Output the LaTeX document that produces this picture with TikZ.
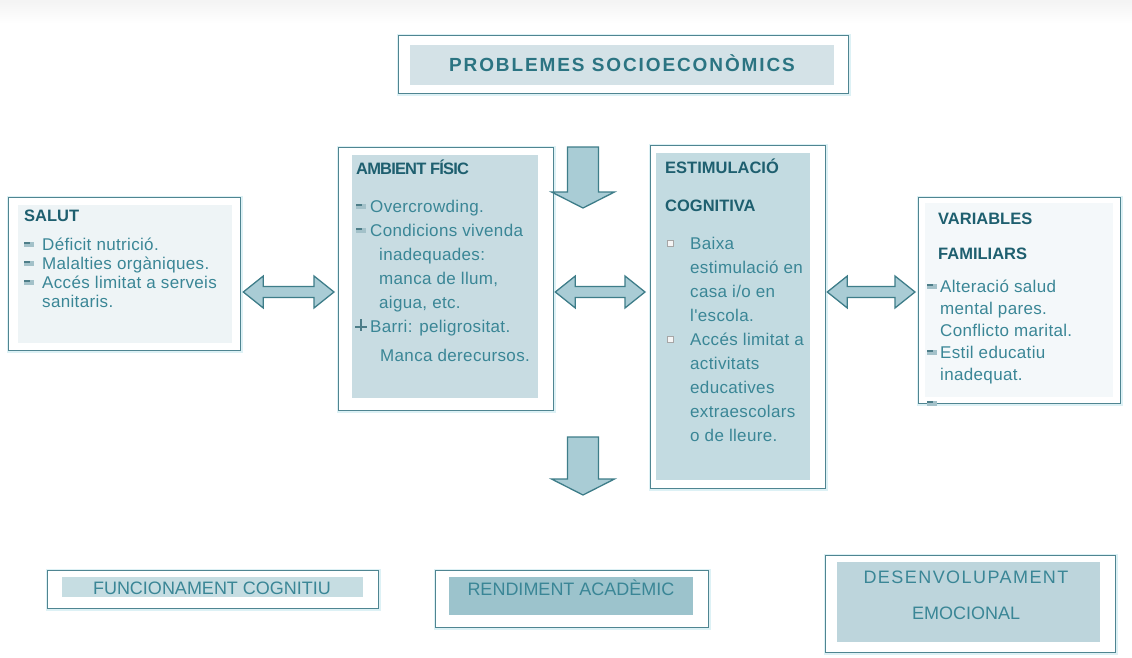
\documentclass[tikz,border=0pt]{standalone}
\usepackage{fontspec}
\setmainfont{Liberation Sans}
\newfontfamily\bodyfont[LetterSpace=2]{Liberation Sans}
\newfontfamily\headfont{Liberation Sans}
\newfontfamily\headtight[LetterSpace=-5]{Liberation Sans}
\newfontfamily\titlefont[LetterSpace=10]{Liberation Sans}
\newfontfamily\widefont[LetterSpace=8]{Liberation Sans}
\usetikzlibrary{calc}

\definecolor{framec}{HTML}{4F8591}
\definecolor{glowc}{HTML}{DDF1F5}
\definecolor{bodyc}{HTML}{3A8696}
\definecolor{headc}{HTML}{1E5F6F}
\definecolor{titlec}{HTML}{2B7482}
\definecolor{arrowfill}{HTML}{A9CCD5}
\definecolor{arrowline}{HTML}{3E7D89}
\definecolor{titlefill}{HTML}{D4E2E7}
\definecolor{salutfill}{HTML}{EEF4F6}
\definecolor{ambfill}{HTML}{C8DCE2}
\definecolor{estfill}{HTML}{C3DBE1}
\definecolor{varfill}{HTML}{F4F8FA}
\definecolor{funcfill}{HTML}{C6DDE2}
\definecolor{rendfill}{HTML}{9CC3CC}
\definecolor{desfill}{HTML}{BDD5DC}
\definecolor{bulletlight}{HTML}{A3C1C9}
\definecolor{bulletdark}{HTML}{4D7D88}

% horizontal two-headed block arrow between two points on one row
\newcommand\hdarrow[2]{%
  \draw[blockarrow] let \p1=(#1), \p2=(#2) in
    (\x1,\y1) -- (\x1+20pt,\y1+16pt) -- (\x1+20pt,\y1+5.5pt)
    -- (\x2-20pt,\y1+5.5pt) -- (\x2-20pt,\y1+16pt) -- (\x2,\y1)
    -- (\x2-20pt,\y1-16pt) -- (\x2-20pt,\y1-5.5pt)
    -- (\x1+20pt,\y1-5.5pt) -- (\x1+20pt,\y1-16pt) -- cycle;}
% downward block arrow from the top of its shaft to its tip
\newcommand\vdarrow[2]{%
  \draw[blockarrow] let \p1=(#1), \p2=(#2) in
    (\x1-15.5pt,\y1) -- (\x1+15.5pt,\y1) -- (\x1+15.5pt,\y2+16pt)
    -- (\x1+31.5pt,\y2+16pt) -- (\x1,\y2) -- (\x1-31.5pt,\y2+16pt)
    -- (\x1-15.5pt,\y2+16pt) -- cycle;}

\tikzset{
  frame/.style={draw=framec, line width=1.3pt, fill=white, inner sep=0pt,
    anchor=north west, preaction={draw=glowc, line width=4pt}},
  panel/.style={inner sep=0pt, anchor=north west, draw=none},
  body/.style={anchor=base west, inner sep=0pt, text=bodyc,
    font=\bodyfont\fontsize{17}{19}\selectfont},
  head/.style={anchor=base west, inner sep=0pt, text=headc,
    font=\headfont\bfseries\fontsize{16.5}{19}\selectfont},
  btext/.style={inner sep=0pt, text=bodyc, font=\fontsize{18}{20}\selectfont},
  blockarrow/.style={fill=arrowfill, draw=arrowline, line width=1.3pt, line join=miter},
  dashbullet/.pic={
    \fill[bulletlight] (0,-8) rectangle (10,-3);
    \draw[bulletdark, line width=1.1pt] (0,-7) -- (6,-7);},
  sqbullet/.pic={
    \filldraw[fill=white!92!gray, draw=gray!70, line width=0.6pt] (0,-9) rectangle (6,-3);},
  pinbullet/.pic={
    \draw[bulletdark, line width=1.3pt] (7,-13) -- (7,-1) (1,-5) -- (13,-5);},
}

\begin{document}
\begin{tikzpicture}[x=1pt, y=-1pt]
\useasboundingbox (0,0) rectangle (1132,658);
\fill[white] (0,0) rectangle (1132,658);
\shade[top color=gray!9, bottom color=white] (0,0) rectangle (1132,24);

% ---- heading ----
\node[frame, minimum width=450pt, minimum height=58pt] (title) at (398,35) {};
\node[panel, fill=titlefill, minimum width=424pt, minimum height=40pt] (title-in) at (410,45) {};
\node[inner sep=0pt, text=titlec, font=\titlefont\bfseries\fontsize{19}{22}\selectfont]
  (title-t) at (622,63) {PROBLEMES SOCIOECONÒMICS};

% ---- SALUT ----
\node[frame, minimum width=232pt, minimum height=153pt] (salut) at (8,197) {};
\node[panel, fill=salutfill, minimum width=214pt, minimum height=138pt] (salut-in) at (18,205) {};
\node[head] (salut-h) at (24,221) {SALUT};
\foreach \t [count=\i from 0] in {Déficit nutrició., Malalties orgàniques., Accés limitat a serveis, sanitaris.}
  \node[body] (salut-l\i) at (42,250+19*\i) {\t};
\foreach \i in {0,1,2} \pic at (24,250+19*\i) {dashbullet};

% ---- AMBIENT FÍSIC ----
\node[frame, minimum width=215pt, minimum height=263pt] (amb) at (338,147) {};
\node[panel, fill=ambfill, minimum width=186pt, minimum height=243pt] (amb-in) at (352,155) {};
\node[head, font=\headtight\bfseries\fontsize{16.5}{19}\selectfont] (amb-h) at (356,174) {AMBIENT FÍSIC};
\node[body] (amb-l0) at (370,212) {Overcrowding.};
\node[body] (amb-l1) at (370,236) {Condicions vivenda};
\node[body] (amb-l2) at (379,260) {inadequades:};
\node[body] (amb-l3) at (379,284) {manca de llum,};
\node[body] (amb-l4) at (379,308) {aigua, etc.};
\node[body] (amb-l5) at (370,332) {Barri: peligrositat.};
\node[body] (amb-l6) at (380,361) {Manca derecursos.};
\pic at (356,212) {dashbullet};
\pic at (356,236) {dashbullet};
\pic at (354,332) {pinbullet};

% ---- ESTIMULACIÓ COGNITIVA ----
\node[frame, minimum width=175pt, minimum height=343pt] (est) at (650,145) {};
\node[panel, fill=estfill, minimum width=154pt, minimum height=327pt] (est-in) at (656,153) {};
\node[head] (est-h1) at (665,173) {ESTIMULACIÓ};
\node[head] (est-h2) at (665,211) {COGNITIVA};
\foreach \t [count=\i from 0] in {Baixa, estimulació en, casa i/o en, l'escola., Accés limitat a,
    activitats, educatives, extraescolars, o de lleure.}
  \node[body] (est-l\i) at (690,249+24.1*\i) {\t};
\pic at (667,249) {sqbullet};
\pic at (667,345) {sqbullet};

% ---- VARIABLES FAMILIARS ----
\node[frame, minimum width=202pt, minimum height=206pt] (var) at (918,197) {};
\node[panel, fill=varfill, minimum width=188pt, minimum height=194pt] (var-in) at (925,203) {};
\node[head] (var-h1) at (938,224) {VARIABLES};
\node[head] (var-h2) at (938,259) {FAMILIARS};
\foreach \t [count=\i from 0] in {Alteració salud, mental pares., Conflicto marital., Estil educatiu, inadequat.}
  \node[body] (var-l\i) at (940,292+22*\i) {\t};
\pic at (927,292) {dashbullet};
\pic at (927,358) {dashbullet};
\pic at (927,409) {dashbullet};

% ---- outcomes ----
\node[frame, minimum width=331pt, minimum height=38pt] (func) at (47,570) {};
\node[panel, fill=funcfill, minimum width=301pt, minimum height=20pt] (func-in) at (62,577) {};
\node[btext] (func-t) at (212,588) {FUNCIONAMENT COGNITIU};

\node[frame, minimum width=273pt, minimum height=57pt] (rend) at (435,570) {};
\node[panel, fill=rendfill, minimum width=244pt, minimum height=38pt] (rend-in) at (449,577) {};
\node[btext] (rend-t) at (571,588) {RENDIMENT ACADÈMIC};

\node[frame, minimum width=290pt, minimum height=97pt] (des) at (825,555) {};
\node[panel, fill=desfill, minimum width=263pt, minimum height=80pt] (des-in) at (837,562) {};
\node[btext, font=\widefont\fontsize{18}{20}\selectfont] (des-t1) at (966,577) {DESENVOLUPAMENT};
\node[btext] (des-t2) at (966,613) {EMOCIONAL};

% ---- block arrows ----
\coordinate (arow) at (0,292);
\hdarrow{$(salut.east |- arow)+(2,0)$}{$(amb.west |- arow)+(-4,0)$}
\hdarrow{$(amb.east |- arow)+(1,0)$}{$(est.west |- arow)+(-5,0)$}
\hdarrow{$(est.east |- arow)+(1,0)$}{$(var.west |- arow)+(-3,0)$}

\coordinate (down1-top) at (583,147);
\coordinate (down1-tip) at (583,208);
\coordinate (down2-top) at (583,437);
\coordinate (down2-tip) at (583,495);
\vdarrow{down1-top}{down1-tip}
\vdarrow{down2-top}{down2-tip}
\end{tikzpicture}
\end{document}
